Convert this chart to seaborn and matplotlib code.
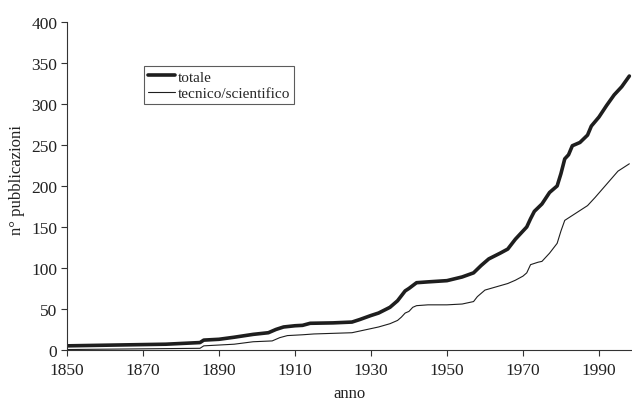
import numpy as np
import pandas as pd
import seaborn as sns
import matplotlib.pyplot as plt

# totale
anni_tot = [1850, 1876, 1885, 1886, 1890, 1894, 1899, 1903, 1905, 1907, 1910, 1912,
            1914, 1920, 1925, 1927, 1930, 1932, 1935, 1937, 1939, 1940, 1942, 1945,
            1950, 1954, 1957, 1959, 1961, 1964, 1966, 1968, 1970, 1971, 1972, 1973,
            1975, 1977, 1979, 1980, 1981, 1982, 1983, 1985, 1987, 1988, 1990, 1992,
            1994, 1996, 1998]
val_tot = [5, 7, 9, 12, 13, 15.5, 19, 21, 25, 28, 29.5, 30,
           32.5, 33, 34, 37, 42, 45, 52, 60, 72, 75, 82, 83,
           84.5, 89, 94, 103, 111, 118, 123, 135, 145, 150, 160, 169,
           178, 192, 200, 215, 233, 238, 249, 253, 262, 273, 284, 298,
           311, 321, 334]

# tecnico/scientifico
anni_tec = [1850, 1885, 1886, 1890, 1894, 1899, 1904, 1906, 1908, 1912, 1915, 1925,
            1927, 1930, 1932, 1935, 1937, 1938, 1939, 1940, 1941, 1942, 1945, 1950,
            1954, 1957, 1958, 1960, 1963, 1966, 1968, 1970, 1971, 1972, 1974, 1975,
            1977, 1979, 1980, 1981, 1983, 1985, 1987, 1989, 1992, 1995, 1998]
val_tec = [0.5, 2, 5, 6, 7, 10, 11, 15, 17.5, 18.5, 19.5, 21,
           23, 26, 28, 32, 36, 40, 45, 47, 52, 54, 55, 55,
           56, 59, 65, 73, 77, 81, 85, 90, 94, 104, 107, 108,
           118, 130, 145, 158, 164, 170, 176, 186, 202, 218, 227]

sns.set_style("white")
plt.rcParams['font.family'] = ['Liberation Serif', 'DejaVu Serif']

fig = plt.figure(figsize=(6.32, 4.02), dpi=100)
ax = fig.add_axes([0.106, 0.127, 0.894, 0.816])

sns.lineplot(x=anni_tot, y=val_tot, color="#1e1e1e", linewidth=2.6, ax=ax, label="totale")
sns.lineplot(x=anni_tec, y=val_tec, color="#1e1e1e", linewidth=0.8, ax=ax, label="tecnico/scientifico")

ax.set_xlim(1850, 1998.7)
ax.set_ylim(0, 400)
ax.set_xticks(np.arange(1850, 1991, 20))
ax.set_yticks(np.arange(0, 401, 50))
ax.tick_params(axis='both', direction='out', length=4, width=0.8, color='#333333',
               labelsize=12.5, colors='#222222', bottom=True, left=True)
ax.tick_params(axis='x', pad=5)
ax.tick_params(axis='y', pad=3)

for s in ['top', 'right']:
    ax.spines[s].set_visible(False)
for s in ['left', 'bottom']:
    ax.spines[s].set_color('#333333')
    ax.spines[s].set_linewidth(0.8)

ax.set_xlabel("anno", fontsize=12, color='#222222', labelpad=5)
ax.set_ylabel("n° pubblicazioni", fontsize=12, color='#222222', labelpad=3)
ax.yaxis.set_label_coords(-0.075, 0.52)

leg = ax.legend(loc='upper left', bbox_to_anchor=(0.136, 0.865), fontsize=11,
                frameon=True, fancybox=False, shadow=False, handlelength=1.8,
                handletextpad=0.15, borderpad=0.25, labelspacing=0.2,
                borderaxespad=0)
leg.get_frame().set_edgecolor('#333333')
leg.get_frame().set_linewidth(0.8)

fig.savefig("out.png", dpi=100)
